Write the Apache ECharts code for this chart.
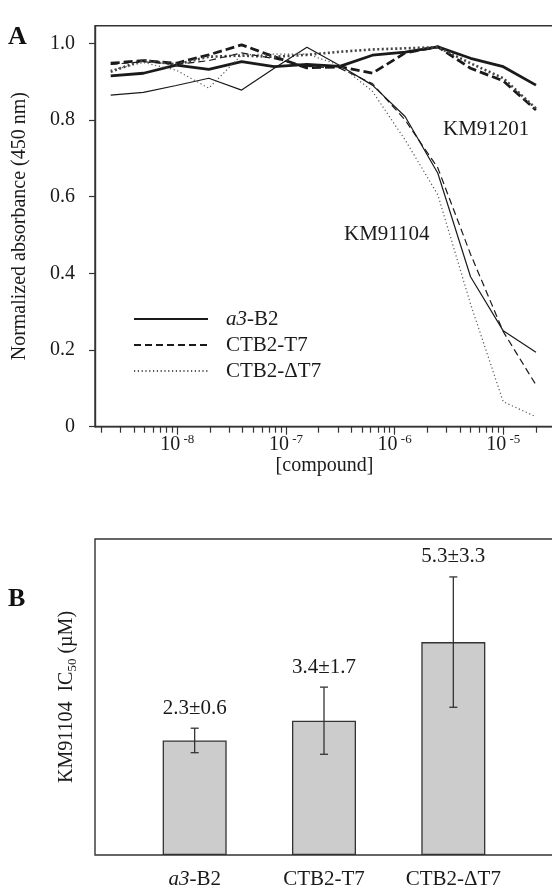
<!DOCTYPE html>
<html>
<head>
<meta charset="utf-8">
<script src="https://cdn.jsdelivr.net/npm/echarts@6/dist/echarts.min.js"></script>
<style>
html,body{margin:0;padding:0;background:#fff;}
#c{width:552px;height:892px;}
</style>
</head>
<body>
<div id="c"></div>
<script>
// ---------- Panel A data ----------
// compound concentrations (M), 2-fold serial dilution
const concM = [2.44e-9, 4.88e-9, 9.77e-9, 1.95e-8, 3.91e-8, 7.81e-8, 1.56e-7, 3.13e-7, 6.25e-7, 1.25e-6, 2.5e-6, 5e-6, 1e-5, 2e-5];
// KM91104 (thin lines)
const km91104_a3B2   = [0.865, 0.872, 0.890, 0.909, 0.878, 0.935, 0.990, 0.942, 0.891, 0.809, 0.661, 0.391, 0.250, 0.194];
const km91104_CTB2T7 = [0.945, 0.952, 0.945, 0.955, 0.975, 0.960, 0.940, 0.935, 0.895, 0.800, 0.675, 0.450, 0.248, 0.109];
const km91104_CTB2dT7= [0.930, 0.950, 0.930, 0.883, 0.970, 0.972, 0.972, 0.943, 0.875, 0.748, 0.605, 0.320, 0.065, 0.026];
// KM91201 (thick lines)
const km91201_a3B2   = [0.915, 0.922, 0.943, 0.932, 0.952, 0.939, 0.945, 0.940, 0.969, 0.977, 0.991, 0.961, 0.939, 0.891];
const km91201_CTB2T7 = [0.948, 0.955, 0.948, 0.970, 0.996, 0.965, 0.936, 0.939, 0.922, 0.975, 0.991, 0.935, 0.902, 0.826];
const km91201_CTB2dT7= [0.926, 0.956, 0.945, 0.965, 0.968, 0.965, 0.970, 0.978, 0.984, 0.987, 0.990, 0.948, 0.909, 0.830];
const legendNames = ['a3-B2', 'CTB2-T7', 'CTB2-\u0394T7'];
const yTicksA = [0, 0.2, 0.4, 0.6, 0.8, 1.0];
const xMajorExp = [-8, -7, -6, -5];

// ---------- Panel B data ----------
const groupsB = ['a3-B2', 'CTB2-T7', 'CTB2-\u0394T7'];
const barTopB = [2.9, 3.4, 5.39];      // bar heights as drawn
const errHalfB = [0.31, 0.85, 1.65];   // error bar half lengths as drawn
const ic50Mean = ['2.3', '3.4', '5.3'];
const ic50SD = ['0.6', '1.7', '3.3'];

// ---------- derived ----------
const SERIF = 'Liberation Serif, Times New Roman, serif';
const INK = '#1a1a1a';
const XMIN = -8.757, XMAX = -4.533;
const majorLog = xMajorExp.slice();
const minorLog = [];
for (let e = -9; e <= -5; e++) {
  for (let k = 2; k <= 9; k++) {
    const v = Math.log10(k) + e;
    if (v > XMIN && v < XMAX) minorLog.push(v);
  }
}
const toPts = arr => concM.map((c, i) => [Math.log10(c), arr[i]]);

function lineSeries(name, arr, width, type, color, z) {
  return {
    name: name, type: 'line', xAxisIndex: 0, yAxisIndex: 0,
    data: toPts(arr), symbol: 'none', showSymbol: false, silent: true, z: z,
    itemStyle: { color: color },
    lineStyle: { color: color, width: width, type: type }, animation: false
  };
}

const chart = echarts.init(document.getElementById('c'), null, { renderer: 'canvas' });

const option = {
  animation: false,
  backgroundColor: '#fff',
  grid: [
    { left: 95, top: 25.7, right: -2, bottom: 465.3, show: true, borderColor: '#333', borderWidth: 1.4, containLabel: false, outerBoundsMode: 'none' },
    { left: 95, top: 539, right: -2, bottom: 37, show: true, borderColor: '#333', borderWidth: 1.4, containLabel: false, outerBoundsMode: 'none' },
    { left: 130, top: 539, width: 388, bottom: 37, containLabel: false, outerBoundsMode: 'none' }
  ],
  legend: {
    data: legendNames,
    orient: 'vertical', left: 128, top: 303.5,
    itemWidth: 74, itemHeight: 14, itemGap: 5,
    selectedMode: false,
    itemStyle: { opacity: 0 },
    textStyle: {
      fontFamily: SERIF, fontSize: 21, color: INK, padding: [0, 0, 0, 13],
      rich: { i: { fontFamily: SERIF, fontSize: 21, fontStyle: 'italic', color: INK } }
    },
    formatter: n => n === 'a3-B2' ? '{i|a3}-B2' : n
  },
  xAxis: [
    {
      gridIndex: 0, type: 'value', min: XMIN, max: XMAX, position: 'bottom',
      axisLine: { show: true, lineStyle: { color: '#333', width: 1.4 } },
      axisTick: { show: true, length: 8, customValues: majorLog, lineStyle: { color: '#333', width: 1.2 } },
      axisLabel: {
        customValues: majorLog, margin: 6,
        formatter: v => '{b|10}{s| -' + Math.abs(Math.round(v)) + '}',
        rich: {
          b: { fontFamily: SERIF, fontSize: 20, color: INK, lineHeight: 22, verticalAlign: 'bottom' },
          s: { fontFamily: SERIF, fontSize: 13, color: INK, lineHeight: 13, verticalAlign: 'top' }
        }
      },
      splitLine: { show: false },
      name: '[compound]', nameLocation: 'middle', nameGap: 26,
      nameTextStyle: { fontFamily: SERIF, fontSize: 20, color: INK }
    },
    {
      gridIndex: 0, type: 'value', min: XMIN, max: XMAX, position: 'bottom', offset: 0,
      axisLine: { show: false },
      axisTick: { show: true, length: 6, customValues: minorLog, lineStyle: { color: '#333', width: 1.2 } },
      axisLabel: { show: false }, splitLine: { show: false }
    },
    { gridIndex: 1, type: 'value', show: false },
    {
      gridIndex: 2, type: 'category', data: groupsB,
      axisLine: { show: false }, axisTick: { show: false },
      axisLabel: {
        margin: 14, interval: 0,
        formatter: v => v === 'a3-B2' ? '{i|a3}{n|-B2}' : '{n|' + v + '}',
        rich: {
          i: { fontFamily: SERIF, fontSize: 21, fontStyle: 'italic', color: INK },
          n: { fontFamily: SERIF, fontSize: 21, color: INK }
        }
      }
    }
  ],
  yAxis: [
    {
      gridIndex: 0, type: 'value', min: 0, max: 1.046,
      axisLine: { show: true, lineStyle: { color: '#333', width: 1.4 } },
      axisTick: { show: true, length: 6, customValues: yTicksA, lineStyle: { color: '#333', width: 1.2 } },
      axisLabel: {
        customValues: yTicksA, margin: 20,
        formatter: v => v === 0 ? '0' : v.toFixed(1),
        fontFamily: SERIF, fontSize: 20, color: INK
      },
      splitLine: { show: false },
      name: 'Normalized absorbance (450 nm)', nameLocation: 'middle', nameGap: 65, nameRotate: 90,
      nameTextStyle: { fontFamily: SERIF, fontSize: 20, color: INK }
    },
    {
      gridIndex: 1, type: 'value', min: 0, max: 1,
      axisLine: { show: false }, axisTick: { show: false }, axisLabel: { show: false }, splitLine: { show: false },
      name: '{n|KM91104  IC}{sub|50}{n| (\u00b5M)}', nameLocation: 'middle', nameGap: 16, nameRotate: 90,
      nameTextStyle: {
        rich: {
          n: { fontFamily: SERIF, fontSize: 20, color: INK, lineHeight: 24, verticalAlign: 'middle' },
          sub: { fontFamily: SERIF, fontSize: 13, color: INK, lineHeight: 12, verticalAlign: 'bottom' }
        }
      }
    },
    { gridIndex: 2, type: 'value', min: 0, max: 8, show: false }
  ],
  series: [
    lineSeries('a3-B2 KM91201', km91201_a3B2, 2.8, 'solid', INK, 3),
    lineSeries('CTB2-T7 KM91201', km91201_CTB2T7, 2.8, [9, 4], INK, 3),
    lineSeries('CTB2-\u0394T7 KM91201', km91201_CTB2dT7, 2.6, [2, 2.5], '#444', 3),
    lineSeries('a3-B2', km91104_a3B2, 1.2, 'solid', INK, 4),
    lineSeries('CTB2-T7', km91104_CTB2T7, 1.2, [7, 4], INK, 4),
    lineSeries('CTB2-\u0394T7', km91104_CTB2dT7, 1.2, [1.2, 2.6], '#555', 4),
    {
      name: 'IC50', type: 'bar', xAxisIndex: 3, yAxisIndex: 2,
      data: barTopB, barWidth: 64, silent: true,
      itemStyle: { color: '#cccccc', borderColor: '#333', borderWidth: 1.3 }
    },
    {
      name: 'err', type: 'custom', xAxisIndex: 3, yAxisIndex: 2, silent: true, z: 5,
      data: groupsB.map((g, i) => [i, barTopB[i] - errHalfB[i], barTopB[i] + errHalfB[i]]),
      encode: { x: 0, y: [1, 2] },
      renderItem: function (params, api) {
        const lo = api.coord([api.value(0), api.value(1)]);
        const hi = api.coord([api.value(0), api.value(2)]);
        const cap = 4;
        const ls = { stroke: '#333', lineWidth: 1.3 };
        return {
          type: 'group',
          children: [
            { type: 'line', shape: { x1: lo[0], y1: lo[1], x2: hi[0], y2: hi[1] }, style: ls },
            { type: 'line', shape: { x1: hi[0] - cap, y1: hi[1], x2: hi[0] + cap, y2: hi[1] }, style: ls },
            { type: 'line', shape: { x1: lo[0] - cap, y1: lo[1], x2: lo[0] + cap, y2: lo[1] }, style: ls },
            {
              type: 'text', x: hi[0], y: hi[1] - 20,
              style: {
                text: ic50Mean[params.dataIndex] + '\u00b1' + ic50SD[params.dataIndex],
                fill: INK, fontFamily: SERIF, fontSize: 21, align: 'center', verticalAlign: 'middle'
              }
            }
          ]
        };
      }
    }
  ],
  graphic: [
    { type: 'text', left: 8, top: 24, style: { text: 'A', fontFamily: SERIF, fontSize: 26, fontWeight: 'bold', fill: '#111' } },
    { type: 'text', left: 8, top: 586, style: { text: 'B', fontFamily: SERIF, fontSize: 26, fontWeight: 'bold', fill: '#111' } },
    { type: 'text', left: 443, top: 119, style: { text: 'KM91201', fontFamily: SERIF, fontSize: 21, fill: INK } },
    { type: 'text', left: 344, top: 224, style: { text: 'KM91104', fontFamily: SERIF, fontSize: 21, fill: INK } }
  ]
};
chart.setOption(option);
</script>
</body>
</html>
